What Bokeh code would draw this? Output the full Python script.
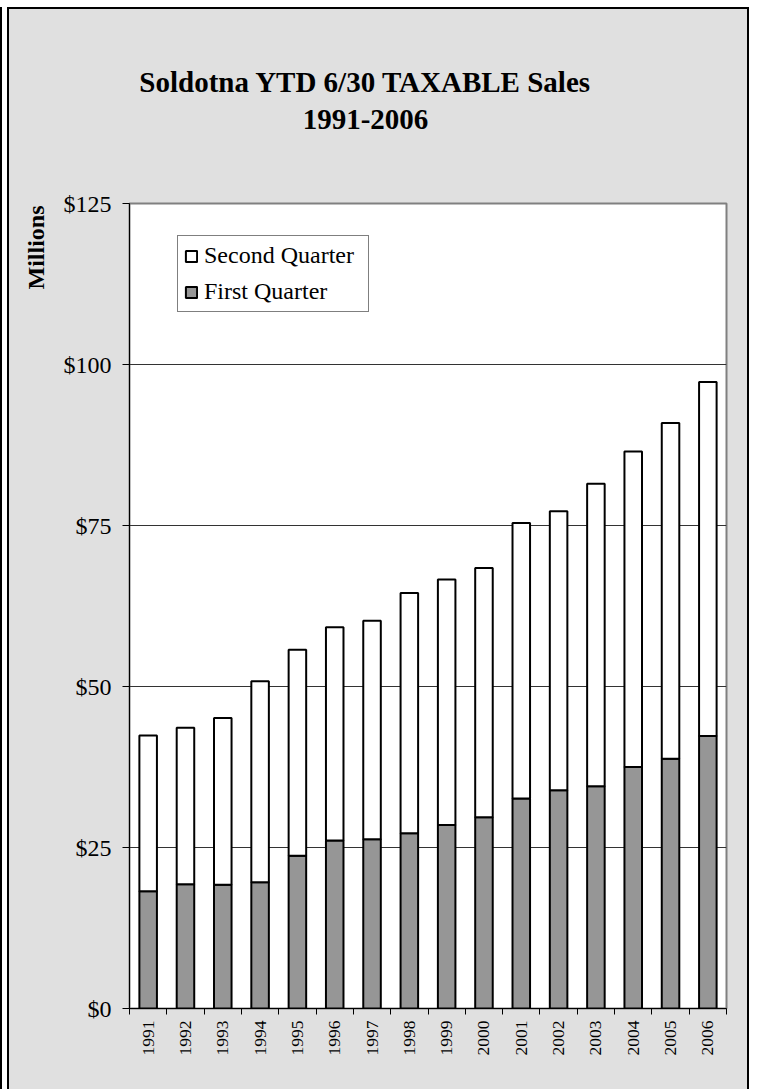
from bokeh.plotting import figure
from bokeh.layouts import column
from bokeh.models import (ColumnDataSource, Range1d, FixedTicker, PrintfTickFormatter,
                          Legend, LegendItem, Title)
from bokeh.core.properties import value
from bokeh.embed import file_html
from bokeh.resources import INLINE
import math

# ---- data (millions of dollars) ----
years = [1991, 1992, 1993, 1994, 1995, 1996, 1997, 1998,
         1999, 2000, 2001, 2002, 2003, 2004, 2005, 2006]
first_quarter = [18.2, 19.3, 19.2, 19.6, 23.7, 26.1, 26.3, 27.2,
                 28.5, 29.7, 32.6, 33.9, 34.5, 37.5, 38.8, 42.3]
second_quarter = [24.2, 24.3, 25.9, 31.2, 32.0, 33.1, 33.9, 37.3,
                  38.1, 38.7, 42.8, 43.3, 47.0, 49.0, 52.1, 55.0]
y_ticks = [0, 25, 50, 75, 100, 125]
series_names = ["First Quarter", "Second Quarter"]
title_lines = ["Soldotna YTD 6/30 TAXABLE Sales", "1991-2006"]
y_title = "Millions"

FONT = "Liberation Serif"
BG = "#E0E0E0"
W = 738          # inner width of the chart box
H_HEAD = 150     # height of the title strip
H_MAIN = 930     # height of the plotting figure
BORDER_L, BORDER_R = 120, 21
FRAME_W = W - BORDER_L - BORDER_R

# ---------------- title strip ----------------
head = figure(width=W, height=H_HEAD, output_backend="svg", toolbar_location=None,
              x_range=Range1d(0, FRAME_W), y_range=Range1d(0, H_HEAD),
              x_axis_location=None, y_axis_location=None,
              min_border_left=BORDER_L, min_border_right=BORDER_R,
              min_border_top=0, min_border_bottom=0)
head.title = None
head.grid.visible = False
head.background_fill_color = BG
head.background_fill_alpha = 0
head.border_fill_color = BG
head.border_fill_alpha = 0
head.outline_line_color = None
head.text(x=[236, 236], y=[78, 40], text=title_lines,
          text_font=value(FONT), text_font_style="bold", text_font_size="29px",
          text_align="center", text_baseline="middle", text_color="black")

# ---------------- main chart ----------------
source = ColumnDataSource(dict(year=years, first=first_quarter, second=second_quarter))

p = figure(width=W, height=H_MAIN, output_backend="svg", toolbar_location=None,
           x_range=Range1d(years[0] - 0.5, years[-1] + 0.5),
           y_range=Range1d(0, 125),
           min_border_left=BORDER_L, min_border_right=BORDER_R,
           min_border_top=44, min_border_bottom=81)
p.title = None
p.background_fill_color = "white"
p.border_fill_color = BG
p.outline_line_color = "#808080"
p.outline_line_width = 2

bars = p.vbar_stack(["first", "second"], x="year", width=0.47, source=source,
                    fill_color=["#969696", "white"], line_color="black", line_width=2)

# grid
p.xgrid.grid_line_color = None
p.ygrid.ticker = FixedTicker(ticks=y_ticks[1:-1])
p.ygrid.grid_line_color = "#333333"
p.ygrid.grid_line_width = 1

# y axis
ya = p.yaxis[0]
ya.ticker = FixedTicker(ticks=y_ticks)
ya.formatter = PrintfTickFormatter(format="$%d")
ya.major_label_text_font = FONT
ya.major_label_text_font_size = "24px"
ya.major_label_text_color = "black"
ya.major_tick_out = 7
ya.major_tick_in = 0
ya.minor_tick_out = 0
ya.minor_tick_in = 0
ya.major_label_standoff = 11
ya.axis_line_color = "black"
ya.major_tick_line_color = "black"

# x axis: labels at bar centres, tick marks between categories
xa = p.xaxis[0]
boundaries = [y - 0.5 for y in years] + [years[-1] + 0.5]
xa.ticker = FixedTicker(ticks=years, minor_ticks=boundaries)
xa.formatter = PrintfTickFormatter(format="%d")
xa.major_label_orientation = math.pi / 2
xa.major_label_text_font = FONT
xa.major_label_text_font_size = "17.5px"
xa.major_label_text_color = "black"
xa.major_tick_out = 0
xa.major_tick_in = 0
xa.minor_tick_out = 6
xa.minor_tick_in = 0
xa.minor_tick_line_color = "black"
xa.major_label_standoff = 6
xa.axis_line_color = "black"

# y-axis title at the top of the left side
p.add_layout(Title(text=y_title, align="right", offset=2, vertical_align="middle",
                   standoff=21, text_font=FONT, text_font_size="24px",
                   text_font_style="bold", text_color="black"), "left")

# legend
legend = Legend(items=[LegendItem(label=series_names[1], renderers=[bars[1]]),
                       LegendItem(label=series_names[0], renderers=[bars[0]])],
                location=(48, 696))
legend.label_text_font = FONT
legend.label_text_font_size = "24px"
legend.label_text_color = "black"
legend.border_line_color = "black"
legend.border_line_width = 1
legend.background_fill_color = "white"
legend.background_fill_alpha = 1
legend.glyph_width = 14
legend.glyph_height = 14
legend.label_standoff = 6
legend.padding = 6
legend.spacing = 9
legend.label_width = 158
legend.margin = 0
p.add_layout(legend, "center")

layout = column(head, p, spacing=0,
                styles={"background-color": BG,
                        "border-left": "2px solid black", "border-top": "2px solid black",
                        "border-right": "2px solid black",
                        "margin-left": "7px", "margin-top": "7px",
                        "box-shadow": "-5px 0 0 0 white, -7px 0 0 0 black"})

open("out.html", "w").write(file_html(layout, INLINE))
